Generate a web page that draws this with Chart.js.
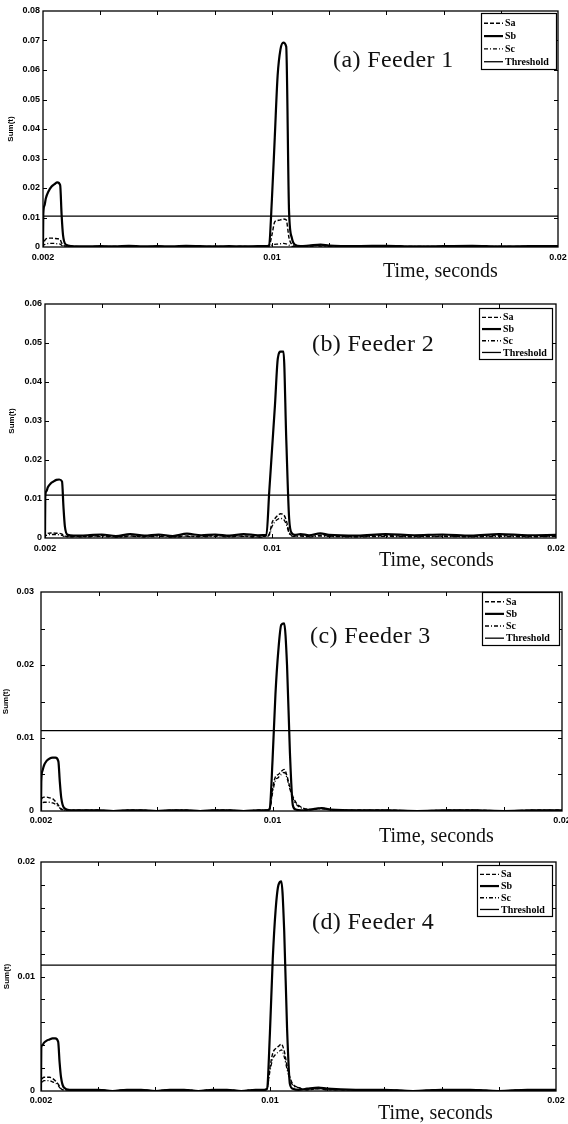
<!DOCTYPE html>
<html>
<head>
<meta charset="utf-8">
<script src="https://cdn.jsdelivr.net/npm/chart.js@4.4.1/dist/chart.umd.min.js"></script>
<style>
  html, body { margin: 0; padding: 0; background: #fff; }
  #wrap { position: relative; width: 568px; height: 1124px; overflow: hidden; background: #fff; }
  canvas { position: absolute; left: 0; }
  .ttl { position: absolute; font-family: "Liberation Serif", "Times New Roman", serif; font-size: 24px; line-height: 24px; color: #111; white-space: nowrap; letter-spacing: 0.4px; }
  .tim { position: absolute; font-family: "Liberation Serif", "Times New Roman", serif; font-size: 20px; line-height: 20px; color: #111; white-space: nowrap; }
</style>
</head>
<body>
<div id="wrap"></div>
<script>
// ---------------- DATA ----------------
const T = [0.002,0.00201,0.00205,0.0021,0.0022,0.0023,0.0024,0.0025,0.0026,0.00265,0.0027,0.0028,0.003,
           0.0035,0.004,0.0045,0.005,0.0055,0.006,0.0065,0.007,0.0075,0.008,0.0085,0.009,0.0095,
           0.0098,0.0099,0.01,0.0101,0.0102,0.0103,0.0104,0.0105,0.0106,0.0107,0.0108,
           0.011,0.0113,0.0117,0.012,0.013,0.014,0.015,0.016,0.017,0.018,0.019,0.02];

const feeder1Sa = [0,0.001,0.002,0.0027,0.003,0.003,0.0029,0.0028,0.0025,0.0014,0.0007,0.0003,0.0002,
  0.0001,0.0002,0.0001,0.0002,0.0001,0.0002,0.0001,0.0002,0.0001,0.0002,0.0001,0.0002,0.0001,
  0.0002,0.0003,0.004,0.0085,0.009,0.0092,0.0095,0.0092,0.003,0.0008,0.0003,
  0.0002,0.0003,0.0005,0.0003,0.0002,0.0002,0.0001,0.0002,0.0002,0.0001,0.0002,0.0002];
const feeder1Sb = [0,0.011,0.014,0.0165,0.019,0.0205,0.0213,0.0219,0.021,0.011,0.004,0.0008,0.0003,
  0.0002,0.0003,0.0002,0.0004,0.0002,0.0003,0.0002,0.0004,0.0003,0.0002,0.0003,0.0002,0.0003,
  0.0003,0.0006,0.016,0.037,0.058,0.067,0.0693,0.068,0.012,0.003,0.0008,
  0.0003,0.0005,0.0008,0.0005,0.0003,0.0004,0.0002,0.0003,0.0004,0.0002,0.0003,0.0003];
const feeder1Sc = [0,0.0005,0.0008,0.001,0.0012,0.0012,0.0012,0.0011,0.001,0.0006,0.0003,0.0002,0.0001,
  0.0001,0.0001,0.0002,0.0001,0.0001,0.0002,0.0001,0.0001,0.0002,0.0001,0.0001,0.0002,0.0001,
  0.0001,0.0002,0.0006,0.0009,0.001,0.0011,0.0012,0.0011,0.0006,0.0002,0.0001,
  0.0001,0.0002,0.0003,0.0002,0.0001,0.0001,0.0002,0.0001,0.0001,0.0002,0.0001,0.0001];

const feeder2Sa = [0,0.0008,0.001,0.0012,0.0013,0.0013,0.0012,0.0012,0.001,0.0007,0.0005,0.0004,0.0004,
  0.0004,0.0006,0.0003,0.0005,0.0004,0.0006,0.0003,0.0005,0.0004,0.0006,0.0004,0.0005,0.0003,
  0.0005,0.001,0.004,0.005,0.0058,0.0062,0.006,0.0045,0.0015,0.0006,0.0005,
  0.0006,0.0004,0.0007,0.0005,0.0004,0.0006,0.0004,0.0005,0.0004,0.0006,0.0004,0.0005];
const feeder2Sb = [0,0.0105,0.012,0.013,0.014,0.0145,0.0149,0.015,0.0145,0.008,0.003,0.0008,0.0006,
  0.0007,0.0009,0.0005,0.001,0.0006,0.0009,0.0005,0.0011,0.0007,0.0009,0.0006,0.001,0.0007,
  0.0008,0.012,0.023,0.034,0.046,0.0478,0.0478,0.025,0.005,0.0012,0.0008,
  0.001,0.0007,0.0012,0.0008,0.0006,0.001,0.0007,0.0009,0.0006,0.001,0.0007,0.0008];
const feeder2Sc = [0,0.0005,0.0007,0.0008,0.0009,0.0009,0.0009,0.0008,0.0007,0.0005,0.0004,0.0003,0.0003,
  0.0003,0.0004,0.0002,0.0004,0.0003,0.0004,0.0002,0.0004,0.0003,0.0004,0.0003,0.0004,0.0002,
  0.0004,0.0008,0.003,0.0042,0.0048,0.005,0.0048,0.0035,0.0012,0.0005,0.0004,
  0.0005,0.0003,0.0005,0.0004,0.0003,0.0004,0.0003,0.0004,0.0003,0.0004,0.0003,0.0004];

const feeder3Sa = [0,0.0013,0.0018,0.0019,0.0019,0.0018,0.0017,0.0013,0.0008,0.0005,0.0003,0.0001,0.0001,
  0.0001,0.0001,0,0.0001,0.0001,0,0.0001,0.0001,0,0.0001,0.0001,0,0.0001,
  0.0001,0.0002,0.003,0.0047,0.005,0.0054,0.0057,0.0048,0.0032,0.002,0.0012,
  0.0005,0.0002,0.0004,0.0002,0.0001,0.0001,0,0.0001,0.0001,0,0.0001,0.0001];
const feeder3Sb = [0,0.004,0.0055,0.0062,0.0069,0.0072,0.0073,0.0073,0.0068,0.004,0.0018,0.0004,0.0001,
  0.0001,0.0001,0,0.0001,0.0001,0,0.0001,0.0001,0,0.0001,0.0001,0,0.0001,
  0.0001,0.0003,0.007,0.016,0.022,0.0255,0.0257,0.02,0.008,0.0008,0.0002,
  0.0001,0.0002,0.0004,0.0002,0.0001,0.0001,0,0.0001,0.0001,0,0.0001,0.0001];
const feeder3Sc = [0,0.0009,0.0011,0.0012,0.0012,0.0012,0.0011,0.0009,0.0006,0.0004,0.0002,0.0001,0.0001,
  0.0001,0.0001,0,0.0001,0.0001,0,0.0001,0.0001,0,0.0001,0.0001,0,0.0001,
  0.0001,0.0002,0.0025,0.0042,0.0046,0.005,0.0053,0.0045,0.003,0.0018,0.001,
  0.0004,0.0002,0.0003,0.0002,0.0001,0.0001,0,0.0001,0.0001,0,0.0001,0.0001];

const feeder4Sa = [0,0.0008,0.0011,0.0012,0.0012,0.0012,0.0011,0.0009,0.0006,0.0004,0.0002,0.0001,0.0001,
  0.0001,0.0001,0,0.0001,0.0001,0,0.0001,0.0001,0,0.0001,0.0001,0,0.0001,
  0.0001,0.0002,0.002,0.0033,0.0037,0.0039,0.0041,0.0035,0.0022,0.0012,0.0006,
  0.0003,0.0001,0.0002,0.0001,0.0001,0.0001,0,0.0001,0.0001,0,0.0001,0.0001];
const feeder4Sb = [0,0.0038,0.004,0.0042,0.0044,0.0045,0.0046,0.0046,0.0043,0.0025,0.0012,0.0003,0.0001,
  0.0001,0.0001,0,0.0001,0.0001,0,0.0001,0.0001,0,0.0001,0.0001,0,0.0001,
  0.0001,0.0002,0.005,0.0115,0.0158,0.018,0.0183,0.014,0.0055,0.0006,0.0002,
  0.0001,0.0002,0.0003,0.0002,0.0001,0.0001,0,0.0001,0.0001,0,0.0001,0.0001];
const feeder4Sc = [0,0.0006,0.0008,0.0009,0.0009,0.0009,0.0008,0.0007,0.0005,0.0003,0.0002,0.0001,0.0001,
  0.0001,0.0001,0,0.0001,0.0001,0,0.0001,0.0001,0,0.0001,0.0001,0,0.0001,
  0.0001,0.0002,0.0017,0.0028,0.0032,0.0034,0.0036,0.003,0.0019,0.001,0.0005,
  0.0003,0.0001,0.0002,0.0001,0.0001,0.0001,0,0.0001,0.0001,0,0.0001,0.0001];

const thresholds = [0.0105, 0.011, 0.011, 0.011];

const xTickValues = [0.002,0.004,0.006,0.008,0.01,0.012,0.014,0.016,0.018,0.02];
const xTickLabels = ['0.002','','','','0.01','','','','','0.02'];

const f1YTicks = [0,0.01,0.02,0.03,0.04,0.05,0.06,0.07,0.08];
const f1YLabels = ['0','0.01','0.02','0.03','0.04','0.05','0.06','0.07','0.08'];
const f2YTicks = [0,0.01,0.02,0.03,0.04,0.05,0.06];
const f2YLabels = ['0','0.01','0.02','0.03','0.04','0.05','0.06'];
const f3YTicks = [0,0.005,0.01,0.015,0.02,0.025,0.03];
const f3YLabels = ['0','','0.01','','0.02','','0.03'];
const f4YTicks = [0,0.002,0.004,0.006,0.008,0.01,0.012,0.014,0.016,0.018,0.02];
const f4YLabels = ['0','','','','','0.01','','','','','0.02'];

const panelTitles = ['(a) Feeder 1','(b) Feeder 2','(c) Feeder 3','(d) Feeder 4'];
const seriesNames = ['Sa','Sb','Sc','Threshold'];
const yAxisTitle = 'Sum(t)';
const xAxisTitle = 'Time, seconds';

const panelSeries = [
  [feeder1Sa, feeder1Sb, feeder1Sc],
  [feeder2Sa, feeder2Sb, feeder2Sc],
  [feeder3Sa, feeder3Sb, feeder3Sc],
  [feeder4Sa, feeder4Sb, feeder4Sc]
];
const panelYTicks = [f1YTicks, f2YTicks, f3YTicks, f4YTicks];
const panelYLabels = [f1YLabels, f2YLabels, f3YLabels, f4YLabels];

// ---------------- LAYOUT / STYLE ----------------
const layouts = [
  {top:0,   h:280, area:{t:11, b:247, l:43, r:558}, yPad:3, yTitlePad:6, xPad:5, leg:{dx:1, dy:2, w:76, h:57}, title:{x:333, y:47}, time:{x:383, y:260}},
  {top:280, h:280, area:{t:24, b:258, l:45, r:556}, yPad:3, yTitlePad:7, xPad:5, leg:{dx:3, dy:4, w:74, h:52}, title:{x:312, y:331}, time:{x:379, y:549}},
  {top:560, h:280, area:{t:32, b:251, l:41, r:562}, yPad:7, yTitlePad:1, xPad:4, leg:{dx:2, dy:0, w:78, h:54}, title:{x:310, y:623}, time:{x:379, y:825}},
  {top:840, h:284, area:{t:22, b:251, l:41, r:556}, yPad:6, yTitlePad:2, xPad:4, leg:{dx:3, dy:3, w:76, h:52}, title:{x:312, y:909}, time:{x:378, y:1102}}
];
const seriesStyles = [
  {borderWidth:1.4, borderDash:[4,2]},
  {borderWidth:2.2, borderDash:[]},
  {borderWidth:1.3, borderDash:[4,2,1,2]},
  {borderWidth:1.3, borderDash:[]}
];

const framePlugin = {
  id: 'frame',
  afterDatasetsDraw(chart, args, opts) {
    const {ctx, chartArea:a, scales} = chart;
    ctx.save();
    ctx.strokeStyle = '#000';
    ctx.lineWidth = 1.3;
    ctx.setLineDash([]);
    ctx.strokeRect(a.left, a.top, a.right - a.left, a.bottom - a.top);
    ctx.lineWidth = 1;
    const tl = 4;
    scales.x.ticks.forEach((t, i, arr) => {
      if (i === 0 || i === arr.length - 1) return;
      const px = Math.round(scales.x.getPixelForValue(t.value)) + 0.5;
      ctx.beginPath();
      ctx.moveTo(px, a.bottom); ctx.lineTo(px, a.bottom - tl);
      ctx.moveTo(px, a.top); ctx.lineTo(px, a.top + tl);
      ctx.stroke();
    });
    scales.y.ticks.forEach((t, i, arr) => {
      if (i === 0 || i === arr.length - 1) return;
      const py = Math.round(scales.y.getPixelForValue(t.value)) + 0.5;
      ctx.beginPath();
      ctx.moveTo(a.left, py); ctx.lineTo(a.left + tl, py);
      ctx.moveTo(a.right, py); ctx.lineTo(a.right - tl, py);
      ctx.stroke();
    });
    // legend box
    const L = opts.leg;
    const bx = a.right - L.dx - L.w, by = a.top + L.dy;
    ctx.fillStyle = '#fff';
    ctx.fillRect(bx, by, L.w, L.h);
    ctx.lineWidth = 1.2;
    ctx.strokeRect(bx + 0.5, by + 0.5, L.w - 1, L.h - 1);
    ctx.font = 'bold 10px "Liberation Serif", serif';
    ctx.textBaseline = 'middle';
    ctx.textAlign = 'left';
    ctx.fillStyle = '#000';
    chart.data.datasets.forEach((ds, i) => {
      const ry = by + L.h * 0.18 + i * L.h * 0.225;
      ctx.beginPath();
      ctx.lineWidth = ds.borderWidth;
      ctx.setLineDash(ds.borderDash || []);
      ctx.moveTo(bx + 3, ry); ctx.lineTo(bx + 22, ry);
      ctx.stroke();
      ctx.setLineDash([]);
      ctx.fillText(ds.label, bx + 24, ry + 0.5);
    });
    ctx.restore();
  }
};

const tickFont = {family:'"Liberation Sans", Arial, sans-serif', size:9, weight:'bold'};
const wrap = document.getElementById('wrap');

layouts.forEach((L, p) => {
  const canvas = document.createElement('canvas');
  canvas.width = 568; canvas.height = L.h;
  canvas.style.top = L.top + 'px';
  canvas.style.width = '568px'; canvas.style.height = L.h + 'px';
  wrap.appendChild(canvas);

  const series = panelSeries[p];
  const datasets = series.map((vals, s) => ({
    label: seriesNames[s],
    data: T.map((t, k) => ({x: t, y: vals[k]})),
    borderColor: '#000',
    borderWidth: seriesStyles[s].borderWidth,
    borderDash: seriesStyles[s].borderDash,
    pointRadius: 0,
    fill: false,
    cubicInterpolationMode: 'monotone'
  }));
  datasets.push({
    label: seriesNames[3],
    data: [{x: T[0], y: thresholds[p]}, {x: T[T.length - 1], y: thresholds[p]}],
    borderColor: '#000',
    borderWidth: seriesStyles[3].borderWidth,
    borderDash: seriesStyles[3].borderDash,
    pointRadius: 0,
    fill: false
  });

  const yTicks = panelYTicks[p], yLabels = panelYLabels[p];

  new Chart(canvas, {
    type: 'line',
    data: {datasets},
    plugins: [framePlugin],
    options: {
      responsive: false,
      animation: false,
      devicePixelRatio: 1,
      layout: {padding: {top: L.area.t, right: 568 - L.area.r, left: 0, bottom: 0}},
      plugins: {
        legend: {display: false},
        tooltip: {enabled: false},
        frame: {leg: L.leg}
      },
      scales: {
        x: {
          type: 'linear', min: xTickValues[0], max: xTickValues[xTickValues.length - 1],
          afterBuildTicks: s => { s.ticks = xTickValues.map(v => ({value: v})); },
          ticks: {callback: (v, i) => xTickLabels[i], autoSkip: false, maxRotation: 0, minRotation: 0,
                  font: tickFont, color: '#000', padding: L.xPad},
          grid: {display: false, drawTicks: false},
          border: {display: false},
          afterFit: s => { s.height = L.h - L.area.b; s.paddingLeft = 0; s.paddingRight = 0; }
        },
        y: {
          type: 'linear', min: yTicks[0], max: yTicks[yTicks.length - 1],
          afterBuildTicks: s => { s.ticks = yTicks.map(v => ({value: v})); },
          ticks: {callback: (v, i) => yLabels[i], autoSkip: false, font: tickFont, color: '#000', padding: L.yPad},
          grid: {display: false, drawTicks: false},
          border: {display: false},
          title: {display: true, text: yAxisTitle, color: '#000',
                  font: {family:'"Liberation Sans", Arial, sans-serif', size: 8, weight: 'bold'},
                  padding: {top: L.yTitlePad, bottom: 0}},
          afterFit: s => { s.width = L.area.l; s.paddingTop = 0; s.paddingBottom = 0; }
        }
      }
    }
  });

  const t = document.createElement('div');
  t.className = 'ttl';
  t.textContent = panelTitles[p];
  t.style.left = L.title.x + 'px'; t.style.top = L.title.y + 'px';
  wrap.appendChild(t);

  const tm = document.createElement('div');
  tm.className = 'tim';
  tm.textContent = xAxisTitle;
  tm.style.left = L.time.x + 'px'; tm.style.top = L.time.y + 'px';
  wrap.appendChild(tm);
});
</script>
</body>
</html>
